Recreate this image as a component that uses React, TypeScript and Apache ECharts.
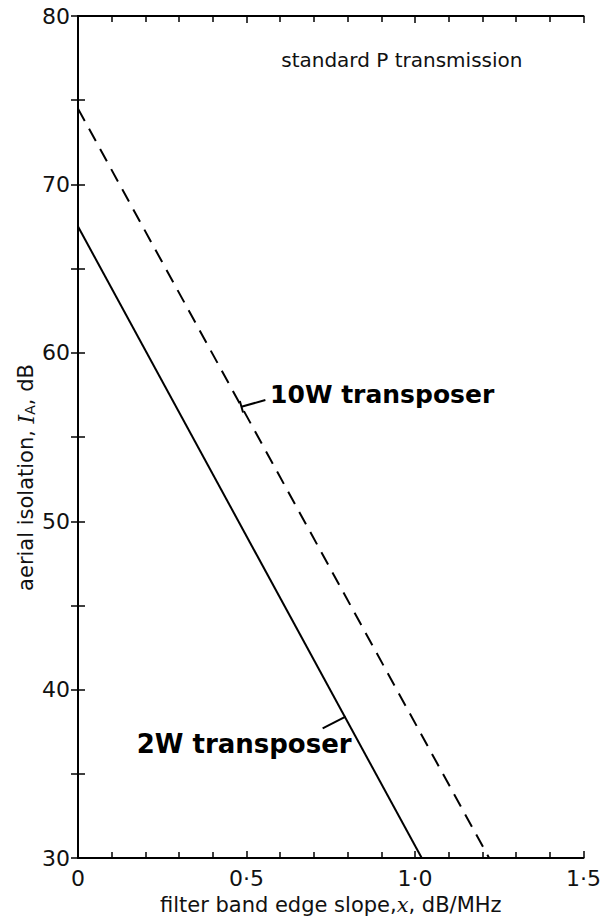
import React, { useEffect, useRef } from "react";
import * as echarts from "echarts";

// ---- data ----
const xTickValues = [0, 0.5, 1.0, 1.5];
const yTickValues = [30, 40, 50, 60, 70, 80];
const seriesNames = ["2W transposer", "10W transposer"];
const line2W: number[][] = [
  [0, 67.5],
  [1.02, 30],
];
const line10W: number[][] = [
  [0, 74.5],
  [1.22, 30],
];
const noteText = "standard P transmission";
const xTitle = "filter band edge slope,{i|x}, dB/MHz";
const yTitle = "aerial isolation, {i|I}{s|A}, dB";

const FONT = "DejaVu Sans";

export default function App() {
  const ref = useRef<HTMLDivElement>(null);
  useEffect(() => {
    if (!ref.current) return;
    const chart = echarts.init(ref.current, null, { renderer: "svg" });
    const axisLine = { show: true, lineStyle: { color: "#000", width: 2 } };
    const tick = { show: true, inside: true, length: 7, lineStyle: { color: "#000", width: 1.5 } };
    const xFmt = (v: number) => (v === 0 ? "0" : v.toFixed(1).replace(".", "·"));
    chart.setOption({
      animation: false,
      backgroundColor: "#fff",
      grid: { left: 78, right: 16, top: 16, bottom: 56, containLabel: false },
      xAxis: [
        {
          type: "value",
          min: xTickValues[0],
          max: xTickValues[xTickValues.length - 1],
          interval: 0.5,
          position: "bottom",
          axisLine,
          axisTick: tick,
          minorTick: { show: true, splitNumber: 5, length: 6, lineStyle: { color: "#000", width: 1.5 } },
          splitLine: { show: false },
          axisLabel: { formatter: xFmt, fontSize: 22, fontFamily: FONT, color: "#111", margin: 9 },
          name: xTitle,
          nameLocation: "middle",
          nameGap: 32,
          nameTextStyle: {
            fontSize: 21,
            fontFamily: FONT,
            color: "#111",
            rich: { i: { fontSize: 21, fontStyle: "italic", fontFamily: "DejaVu Serif", color: "#111" } },
          },
        },
        {
          type: "value",
          min: 0,
          max: 1.5,
          interval: 0.5,
          position: "top",
          axisLine,
          axisTick: tick,
          minorTick: { show: true, splitNumber: 5, length: 6, lineStyle: { color: "#000", width: 1.5 } },
          splitLine: { show: false },
          axisLabel: { show: false },
        },
      ],
      yAxis: [
        {
          type: "value",
          min: yTickValues[0],
          max: yTickValues[yTickValues.length - 1],
          interval: 10,
          position: "left",
          axisLine,
          axisTick: tick,
          minorTick: { show: true, splitNumber: 2, length: 7, lineStyle: { color: "#000", width: 1.5 } },
          splitLine: { show: false },
          axisLabel: { fontSize: 22, fontFamily: FONT, color: "#111", margin: 8 },
        },
        {
          type: "value",
          min: 30,
          max: 80,
          interval: 10,
          position: "right",
          axisLine,
          axisTick: tick,
          minorTick: { show: true, splitNumber: 2, length: 7, lineStyle: { color: "#000", width: 1.5 } },
          splitLine: { show: false },
          axisLabel: { show: false },
        },
      ],
      series: [
        {
          name: seriesNames[0],
          type: "line",
          data: line2W,
          symbol: "none",
          lineStyle: { color: "#000", width: 2, type: "solid" },
        },
        {
          name: seriesNames[1],
          type: "line",
          data: line10W,
          symbol: "none",
          lineStyle: { color: "#000", width: 2, type: [14, 9] },
        },
      ],
    });

    const px = (p: number[]) => chart.convertToPixel({ xAxisIndex: 0, yAxisIndex: 0 }, p) as number[];
    // annotation anchors (data coordinates)
    const a10 = px([0.485, 56.8]);
    const e10 = px([0.556, 57.2]);
    const t10 = px([0.57, 57.5]);
    const a2 = px([0.794, 38.4]);
    const e2 = px([0.726, 37.7]);
    const t2 = px([0.174, 36.8]);
    const tNote = px([0.603, 77.4]);
    const yMid = px([0, 52.6]);

    const dx = e10[0] - a10[0];
    const dy = e10[1] - a10[1];
    const len = Math.hypot(dx, dy);
    const pxp = -dy / len;
    const pyp = dx / len;

    const lineStyle = { stroke: "#000", lineWidth: 2 };
    chart.setOption({
      graphic: [
        { type: "line", shape: { x1: a10[0], y1: a10[1], x2: e10[0], y2: e10[1] }, style: lineStyle },
        {
          type: "line",
          shape: { x1: a10[0] - pxp * 6, y1: a10[1] - pyp * 6, x2: a10[0] + pxp * 6, y2: a10[1] + pyp * 6 },
          style: lineStyle,
        },
        { type: "line", shape: { x1: e2[0], y1: e2[1], x2: a2[0], y2: a2[1] }, style: lineStyle },
        {
          type: "text",
          x: t10[0],
          y: t10[1],
          style: {
            text: seriesNames[1],
            fontSize: 25,
            fontWeight: "bold",
            fontFamily: FONT,
            fill: "#000",
            align: "left",
            verticalAlign: "middle",
          },
        },
        {
          type: "text",
          x: t2[0],
          y: t2[1],
          style: {
            text: seriesNames[0],
            fontSize: 26,
            fontWeight: "bold",
            fontFamily: FONT,
            fill: "#000",
            align: "left",
            verticalAlign: "middle",
          },
        },
        {
          type: "text",
          x: tNote[0],
          y: tNote[1],
          style: {
            text: noteText,
            fontSize: 20,
            fontFamily: FONT,
            fill: "#111",
            align: "left",
            verticalAlign: "middle",
          },
        },
        {
          type: "text",
          x: yMid[0] - 52,
          y: yMid[1],
          rotation: Math.PI / 2,
          style: {
            text: yTitle,
            fontSize: 21,
            fontFamily: FONT,
            fill: "#111",
            align: "center",
            verticalAlign: "middle",
            rich: {
              i: { fontSize: 22, fontStyle: "italic", fontFamily: "DejaVu Serif", fill: "#111" },
              s: { fontSize: 14, fontFamily: FONT, fill: "#111", padding: [8, 0, 0, 0] },
            },
          },
        },
      ],
    });
    return () => chart.dispose();
  }, []);
  return (
    <div
      ref={ref}
      style={{ position: "absolute", left: 0, top: 0, width: 604, height: 920, background: "#fff" }}
    />
  );
}
